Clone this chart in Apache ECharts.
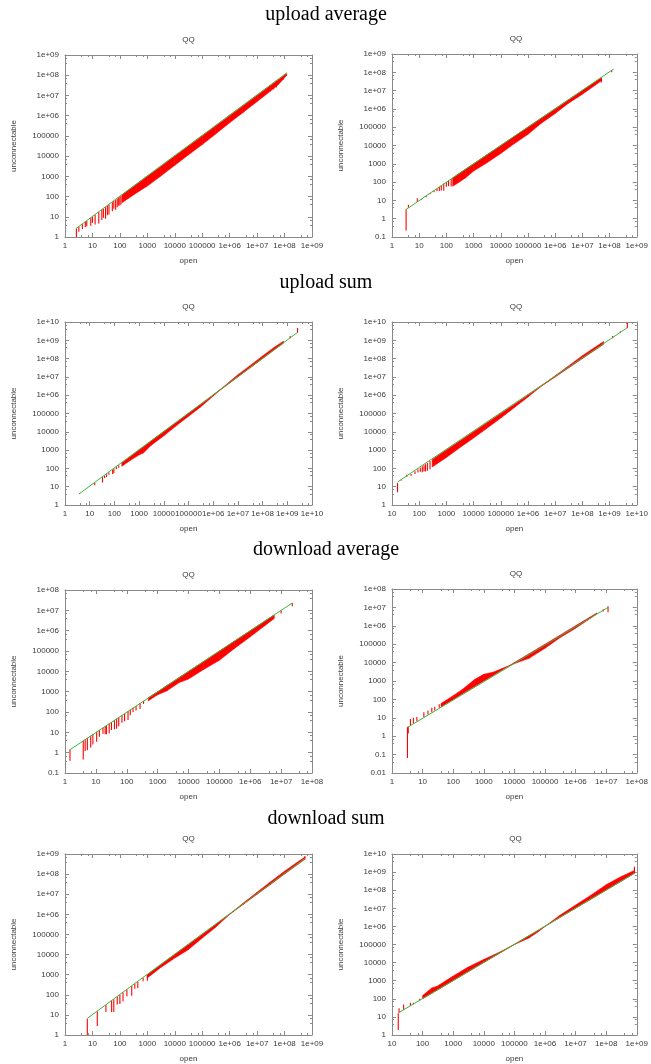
<!DOCTYPE html>
<html>
<head>
<meta charset="utf-8">
<script src="https://cdn.jsdelivr.net/npm/echarts@6/dist/echarts.min.js"></script>
<style>
html,body{margin:0;padding:0;background:#fff;}
#c{width:651px;height:1064px;}
</style>
</head>
<body>
<div id="c"></div>
<script>
// ---------------- DATA ----------------
const rowTitles = ['upload average', 'upload sum', 'download average', 'download sum'];
const plotTitle = 'QQ';
const xName = 'open';
const yName = 'unconnectable';

// axis ranges [min, max] per panel (log10 scale)
const xRanges = [[1, 1e9], [1, 1e9], [1, 1e10], [10, 1e10], [1, 1e8], [1, 1e8], [1, 1e9], [10, 1e9]];
const yRanges = [[1, 1e9], [0.1, 1e9], [1, 1e10], [1, 1e10], [0.1, 1e8], [0.01, 1e8], [1, 1e9], [1, 1e10]];

// green reference line (start, end)
const diagP1 = [[2.5, 2.6], [1.2e8, 1.3e8]];
const diagP2 = [[3.3, 3.2], [1.4e8, 1.5e8]];
const diagP3 = [[3.7, 4], [2.6e9, 2.7e9]];
const diagP4 = [[16, 18], [4.3e9, 4.7e9]];
const diagP5 = [[1.45, 1.4], [2.3e7, 2.3e7]];
const diagP6 = [[3.2, 3], [1.15e7, 1e7]];
const diagP7 = [[6.5, 6.7], [5.5e8, 6e8]];
const diagP8 = [[16.5, 17], [8.4e8, 8.7e8]];

// dense red band: [open, lower edge, upper edge]
const bandP1 = [
  [120, 50, 120], [200, 80, 200], [400, 150, 400], [1000, 330, 1000], [3000, 1000, 3000],
  [10000, 3500, 10000], [30000, 11000, 30000], [100000, 37000, 100000], [300000, 120000, 300000],
  [1e6, 450000, 1e6], [3e6, 1.4e6, 3e6], [1e7, 5e6, 1e7], [3e7, 1.6e7, 3e7], [6e7, 3.5e7, 6e7], [1.2e8, 1e8, 1.2e8]
];
const bandP2 = [
  [170, 60, 170], [300, 100, 300], [500, 170, 500], [1000, 400, 1000], [3000, 1100, 3000],
  [10000, 3700, 10000], [30000, 12000, 30000], [100000, 41000, 100000], [300000, 160000, 300000],
  [1e6, 560000, 1e6], [3e6, 2e6, 3e6], [1e7, 6.3e6, 1e7], [3e7, 2e7, 3e7], [5e7, 3.5e7, 5e7]
];
const bandP3 = [
  [200, 130, 200], [400, 250, 400], [1000, 550, 1000], [1500, 700, 1500], [3000, 1800, 3000],
  [10000, 6000, 10000], [30000, 20000, 30000], [100000, 70000, 100000], [300000, 220000, 300000],
  [1e6, 900000, 1e6], [2e6, 2e6, 2.1e6], [5e6, 5e6, 6e6], [1e7, 1e7, 1.3e7], [3e7, 3e7, 4e7],
  [1e8, 1e8, 1.4e8], [3e8, 3e8, 4.2e8], [7e8, 7e8, 9e8]
];
const bandP4 = [
  [300, 120, 300], [500, 200, 500], [1000, 400, 1000], [3000, 1300, 3000], [10000, 4600, 10000],
  [30000, 15000, 30000], [100000, 56000, 100000], [300000, 200000, 300000], [1e6, 800000, 1e6],
  [3e6, 3e6, 3e6], [1e7, 1e7, 1.15e7], [3e7, 3e7, 3.8e7], [1e8, 1e8, 1.45e8], [3e8, 3e8, 4.3e8], [6e8, 6e8, 8.5e8]
];
const bandP5 = [
  [500, 350, 500], [700, 500, 700], [1000, 700, 1000], [2000, 1100, 2000], [5000, 2800, 5000],
  [10000, 4200, 10000], [30000, 12000, 30000], [100000, 35000, 100000], [300000, 130000, 300000],
  [1e6, 500000, 1e6], [3e6, 1.8e6, 3e6], [6e6, 4e6, 6e6]
];
const bandP6 = [
  [40, 40, 60], [100, 100, 160], [200, 200, 350], [500, 500, 1200], [1000, 1000, 2300],
  [2000, 2000, 3000], [4000, 4000, 4800], [7000, 7000, 7000], [10000, 8800, 10000],
  [30000, 17000, 30000], [100000, 60000, 100000], [300000, 220000, 300000], [1e6, 740000, 1e6],
  [3e6, 2.5e6, 3e6], [5e6, 4.5e6, 5e6]
];
const bandP7 = [
  [1000, 690, 1000], [3000, 2200, 3000], [10000, 6700, 10000], [30000, 17000, 30000],
  [100000, 66000, 100000], [300000, 220000, 300000], [1e6, 1e6, 1e6], [3e6, 3e6, 3.5e6],
  [1e7, 1e7, 1.26e7], [3e7, 3e7, 4e7], [1e8, 1e8, 1.4e8], [3e8, 3e8, 4e8], [5.5e8, 5.5e8, 7e8]
];
const bandP8 = [
  [100, 100, 150], [200, 200, 400], [300, 300, 500], [1000, 1000, 1800], [3000, 3000, 5500],
  [5000, 5000, 8500], [10000, 10000, 15000], [30000, 30000, 35000], [100000, 100000, 100000],
  [300000, 230000, 300000], [600000, 500000, 600000], [1e6, 1e6, 1e6], [3e6, 3e6, 4e6],
  [1e7, 1e7, 1.5e7], [3e7, 3e7, 5e7], [1e8, 1e8, 2e8], [3e8, 3e8, 5.5e8], [8e8, 8e8, 1.2e9]
];

// individual red impulses: [open, from, to]
const spikesP1 = [
  [2.6, 2.6, 1], [3.2, 3.2, 1.8], [4.3, 4.3, 2.5], [5.5, 5.5, 3], [6.2, 6.2, 3.4], [8.7, 8.7, 3.6],
  [10, 10, 5], [12.5, 12.5, 4.1], [17, 17, 4.6], [22, 22, 7], [25, 25, 9], [30, 30, 8], [35, 35, 12],
  [40, 40, 13], [53, 53, 19], [60, 60, 25], [70, 70, 22], [80, 80, 30], [90, 90, 35], [100, 100, 36],
  [110, 110, 40], [4e7, 4e7, 2e7], [5e7, 5e7, 2.5e7], [9e7, 9e7, 6e7]
];
const spikesP2 = [
  [3.3, 3.3, 0.23], [4, 4, 5.8], [8.5, 8.5, 13], [12, 12, 11], [18, 18, 15], [25, 25, 22], [35, 35, 28],
  [45, 45, 32], [55, 55, 33], [65, 65, 35], [80, 80, 34], [100, 100, 55], [120, 120, 60], [150, 150, 58],
  [5e7, 5e7, 2.8e7], [1.2e8, 1.2e8, 1e8]
];
const spikesP3 = [
  [16, 16, 12], [33, 33, 17], [40, 40, 30], [48, 48, 34], [60, 60, 45], [85, 85, 50], [95, 95, 55],
  [120, 120, 90], [150, 150, 110], [225, 225, 160], [310, 310, 220], [1.3e9, 1.3e9, 1.7e9], [2.6e9, 2.6e9, 4.7e9]
];
const spikesP4 = [
  [16, 16, 4.9], [22, 22, 25], [35, 35, 45], [50, 50, 40], [70, 70, 50], [90, 90, 60], [110, 110, 65],
  [130, 130, 62], [150, 150, 70], [170, 170, 68], [200, 200, 75], [250, 250, 90],
  [1.3e9, 1.3e9, 1.7e9], [2.5e9, 2.5e9, 3e9], [4.5e9, 4.5e9, 8.9e9]
];
const spikesP5 = [
  [1.45, 1.45, 0.4], [3.9, 3.9, 0.46], [4.5, 4.5, 1.2], [5.3, 5.3, 1.3], [6.8, 6.8, 1.8], [8, 8, 2.5],
  [10.6, 10.6, 3.4], [13, 13, 6], [17, 17, 8.6], [20, 20, 8], [22, 22, 8], [27, 27, 9], [32, 32, 13],
  [40, 40, 14], [47, 47, 15], [55, 55, 20], [70, 70, 30], [85, 85, 35], [110, 110, 40], [130, 130, 70],
  [160, 160, 100], [200, 200, 120], [270, 270, 140], [350, 350, 250], [1e7, 1e7, 7e6], [2.3e7, 2.3e7, 1.6e7]
];
const spikesP6 = [
  [3.2, 3.2, 0.065], [3.4, 3.4, 1.4], [4, 4, 8.5], [5, 5, 10], [6.5, 6.5, 11], [11, 11, 20],
  [15, 15, 25], [20, 20, 35], [25, 25, 40], [35, 35, 55], [8e6, 8e6, 6e6], [1.15e7, 1.15e7, 5.5e6]
];
const spikesP7 = [
  [6.5, 6.5, 1], [15, 15, 2.8], [31, 31, 14], [50, 50, 14], [60, 60, 14], [80, 80, 33], [100, 100, 35],
  [130, 130, 48], [180, 180, 85], [270, 270, 90], [350, 350, 200], [450, 450, 220], [700, 700, 470],
  [1000, 1000, 500], [5.5e8, 5.5e8, 8e8]
];
const spikesP8 = [
  [16, 16, 1.9], [17, 17, 30], [24, 24, 48], [40, 40, 60], [50, 50, 60], [65, 65, 65], [80, 80, 100],
  [8.4e8, 8.4e8, 2e9]
];

// ---------------- LAYOUT ----------------
const grids = [
  {left: 65, top: 55, width: 247, height: 182},
  {left: 392, top: 54, width: 248, height: 183},
  {left: 65, top: 322, width: 247, height: 183},
  {left: 392, top: 322, width: 248, height: 183},
  {left: 65, top: 590, width: 247, height: 183},
  {left: 392, top: 589, width: 248, height: 184},
  {left: 65, top: 854, width: 247, height: 182},
  {left: 392, top: 854, width: 247, height: 182}
];
const rowTitleY = [15, 283, 550, 819];

const diags = [diagP1, diagP2, diagP3, diagP4, diagP5, diagP6, diagP7, diagP8];
const bands = [bandP1, bandP2, bandP3, bandP4, bandP5, bandP6, bandP7, bandP8];
const spikes = [spikesP1, spikesP2, spikesP3, spikesP4, spikesP5, spikesP6, spikesP7, spikesP8];

const FONT = "'Liberation Sans', Arial, Helvetica, sans-serif";
const GRAY = '#8a8a8a';
const TXT = '#3a3a3a';
const RED = '#ff0000';
const GREEN = '#3cb43c';

function fmt(v) {
  const e = Math.round(Math.log10(v));
  if (e >= 6) return '1e+' + (e < 10 ? '0' + e : e);
  if (e >= 0) return String(Math.pow(10, e));
  return Math.pow(10, e).toFixed(-e);
}

const xAxes = [], yAxes = [], series = [], graphics = [];
grids.forEach((g, i) => {
  const common = {
    type: 'log', logBase: 10, interval: 1,
    axisLine: {show: true, lineStyle: {color: GRAY, width: 1}},
    axisTick: {show: true, inside: true, length: 4, lineStyle: {color: GRAY}},
    minorTick: {show: true, splitNumber: 3, length: 2, lineStyle: {color: GRAY}},
    splitLine: {show: false}
  };
  xAxes.push(Object.assign({}, common, {
    gridIndex: i, position: 'bottom', min: xRanges[i][0], max: xRanges[i][1],
    name: xName, nameLocation: 'middle', nameGap: 20,
    nameTextStyle: {fontFamily: FONT, fontSize: 8, color: TXT},
    axisLabel: {show: true, interval: 0, margin: 5, fontFamily: FONT, fontSize: 8, color: TXT, formatter: fmt, hideOverlap: false}
  }));
  xAxes.push(Object.assign({}, common, {
    gridIndex: i, position: 'top', min: xRanges[i][0], max: xRanges[i][1], axisLabel: {show: false}
  }));
  yAxes.push(Object.assign({}, common, {
    gridIndex: i, position: 'left', min: yRanges[i][0], max: yRanges[i][1],
    name: yName, nameLocation: 'middle', nameGap: 47, nameRotate: 90,
    nameTextStyle: {fontFamily: FONT, fontSize: 8, color: TXT},
    axisLabel: {show: true, interval: 0, margin: 6, fontFamily: FONT, fontSize: 8, color: TXT, formatter: fmt}
  }));
  yAxes.push(Object.assign({}, common, {
    gridIndex: i, position: 'right', min: yRanges[i][0], max: yRanges[i][1], axisLabel: {show: false}
  }));

  const xi = i * 2, yi = i * 2;
  const b = bands[i];
  const quads = [];
  for (let k = 0; k < b.length - 1; k++) quads.push([b[k][0], b[k][1], b[k][2], b[k + 1][0], b[k + 1][1], b[k + 1][2]]);
  series.push({
    type: 'custom', xAxisIndex: xi, yAxisIndex: yi, clip: true, silent: true, z: 2,
    encode: {x: [0, 3], y: [1, 2, 4, 5]},
    data: quads,
    renderItem: function (params, api) {
      const p = [
        api.coord([api.value(0), api.value(2)]),
        api.coord([api.value(3), api.value(5)]),
        api.coord([api.value(3), api.value(4)]),
        api.coord([api.value(0), api.value(1)])
      ];
      return {type: 'polygon', shape: {points: p}, style: {fill: RED, stroke: RED, lineWidth: 0.6}};
    }
  });
  series.push({
    type: 'custom', xAxisIndex: xi, yAxisIndex: yi, clip: true, silent: true, z: 3,
    encode: {x: 0, y: [1, 2]},
    data: spikes[i],
    renderItem: function (params, api) {
      const a = api.coord([api.value(0), api.value(1)]);
      const c = api.coord([api.value(0), api.value(2)]);
      return {type: 'line', shape: {x1: a[0], y1: a[1], x2: c[0], y2: c[1]}, style: {stroke: RED, lineWidth: 1.1}};
    }
  });
  series.push({
    type: 'line', xAxisIndex: xi, yAxisIndex: yi, data: diags[i], symbol: 'none', silent: true, z: 4,
    lineStyle: {color: GREEN, width: 1}, animation: false
  });
  graphics.push({
    type: 'text', x: g.left + g.width / 2, y: g.top - 15,
    style: {text: plotTitle, font: '8px ' + FONT, fill: TXT, textAlign: 'center', textVerticalAlign: 'middle'}
  });
});

rowTitles.forEach((t, r) => {
  graphics.push({
    type: 'text', x: 326, y: rowTitleY[r],
    style: {text: t, font: "20px 'Liberation Serif', 'Times New Roman', serif", fill: '#000', textAlign: 'center', textVerticalAlign: 'middle'}
  });
});

const chart = echarts.init(document.getElementById('c'), null, {renderer: 'canvas'});
chart.setOption({
  animation: false,
  backgroundColor: '#fff',
  grid: grids.map(g => Object.assign({show: false, containLabel: false}, g)),
  xAxis: xAxes,
  yAxis: yAxes,
  series: series,
  graphic: graphics
});
</script>
</body>
</html>
